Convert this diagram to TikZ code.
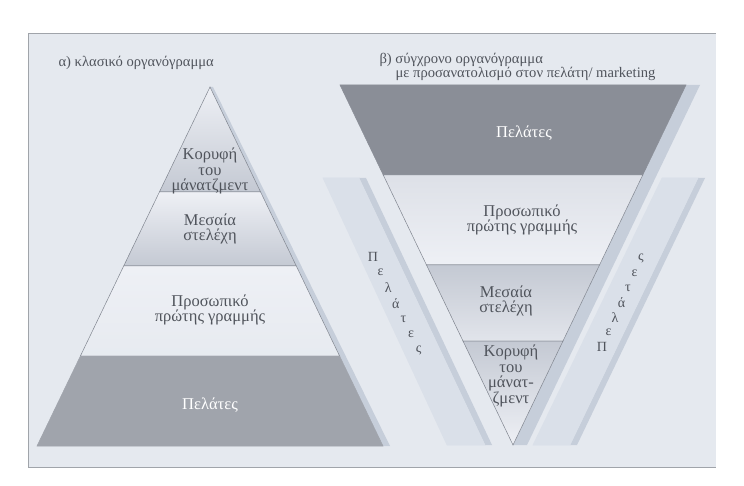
\documentclass[tikz,border=0pt]{standalone}
\usepackage{fontspec}
\setmainfont{Liberation Serif}
\usetikzlibrary{positioning}

\definecolor{bggray}{RGB}{229,233,239}
\definecolor{framegray}{RGB}{160,164,170}
\definecolor{edgegray}{RGB}{128,133,143}
\definecolor{palegray}{RGB}{238,240,245}
\definecolor{midgray}{RGB}{196,201,211}
\definecolor{darkleft}{RGB}{160,164,172}
\definecolor{darkright}{RGB}{138,142,151}
\definecolor{stripgray}{RGB}{218,224,233}
\definecolor{shadowgray}{RGB}{198,206,218}
\definecolor{txtgray}{RGB}{80,84,92}

\begin{document}
\begin{tikzpicture}[x=1pt,y=-1pt,
band/.style={draw=edgegray,line width=0.5pt},
lbl/.style={align=center,font=\fontsize{16.5}{15.5}\selectfont,text=txtgray},
ttl/.style={anchor=west,font=\fontsize{14.6}{14}\selectfont,text=txtgray},
chr/.style={font=\fontsize{14}{14}\selectfont,text=txtgray,inner sep=0pt}]
\useasboundingbox (0,0) rectangle (744,486);

% frame
\fill[bggray] (28,33) rectangle (716,467);
\draw[framegray] (716,33) -- (28,33) -- (28,467) -- (716,467);

% classic pyramid
\fill[shadowgray] (210,87) -- (213,87) -- (390,446) -- (383,446) -- cycle;
\shade[band,top color=palegray,bottom color=midgray]
  (210,87) -- (260.6,192) -- (159.4,192) -- cycle;
\shade[band,top color=palegray,bottom color=midgray]
  (159.4,192) -- (260.6,192) -- (296.3,266) -- (123.7,266) -- cycle;
\shade[band,top color=palegray,bottom color=bggray!80!palegray]
  (123.7,266) -- (296.3,266) -- (339.6,356) -- (80.4,356) -- cycle;
\fill[band,darkleft] (80.4,356) -- (339.6,356) -- (383,446) -- (37,446) -- cycle;

\node[lbl] (ptop) at (210,171) {Κορυφή\\του\\μάνατζμεντ};
\node[lbl] (pmid) at (210,229) {Μεσαία\\στελέχη};
\node[lbl] (pstaff) at (210,310) {Προσωπικό\\πρώτης γραμμής};
\node[lbl,text=white] (pcust) at (210,405) {Πελάτες};

% inverted pyramid
\fill[shadowgray] (686,85) -- (700,85) -- (527,445) -- (513,445) -- cycle;
\fill[band,darkright] (340,85) -- (686,85) -- (642.75,175) -- (383.25,175) -- cycle;
\shade[band,top color=midgray!40!palegray,bottom color=palegray]
  (383.25,175) -- (642.75,175) -- (599.5,265) -- (426.5,265) -- cycle;
\shade[band,top color=midgray,bottom color=midgray!30!palegray]
  (426.5,265) -- (599.5,265) -- (563,341) -- (463,341) -- cycle;
\shade[band,top color=midgray,bottom color=palegray]
  (463,341) -- (563,341) -- (513,445) -- cycle;

\node[lbl,text=white] (icust) at (524,133) {Πελάτες};
\node[lbl] (istaff) at (522,220) {Προσωπικό\\πρώτης γραμμής};
\node[lbl] (imid) at (506,301) {Μεσαία\\στελέχη};
\node[lbl] (itop) at (511,376) {Κορυφή\\του\\μάνατ-\\ζμεντ};

% side strips
\fill[shadowgray] (359,178) -- (366,178) -- (492,445) -- (485,445) -- cycle;
\fill[band,stripgray] (323,178) -- (359,178) -- (485,445) -- (447,445) -- cycle;
\fill[shadowgray] (698,178) -- (705,178) -- (577,445) -- (570,445) -- cycle;
\fill[band,stripgray] (662,178) -- (698,178) -- (570,445) -- (533,445) -- cycle;

\foreach \ch [count=\i] in {Π,ε,λ,ά,τ,ε,ς}
  \node[chr] (lc\i) at ({373+7.6*(\i-1)},{257+15.5*(\i-1)}) {\ch};
\foreach \ch [count=\i] in {Π,ε,λ,ά,τ,ε,ς}
  \node[chr] (rc\i) at ({602+6.5*(\i-1)},{347-14.7*(\i-1)}) {\ch};

% titles
\node[ttl] (titlea) at (55,63) {α) κλασικό οργανόγραμμα};
\node[ttl] (titleb) at (376,60) {β) σύγχρονο οργανόγραμμα};
\node[ttl] (titlec) at (392,74) {με προσανατολισμό στον πελάτη/ marketing};
\end{tikzpicture}
\end{document}
